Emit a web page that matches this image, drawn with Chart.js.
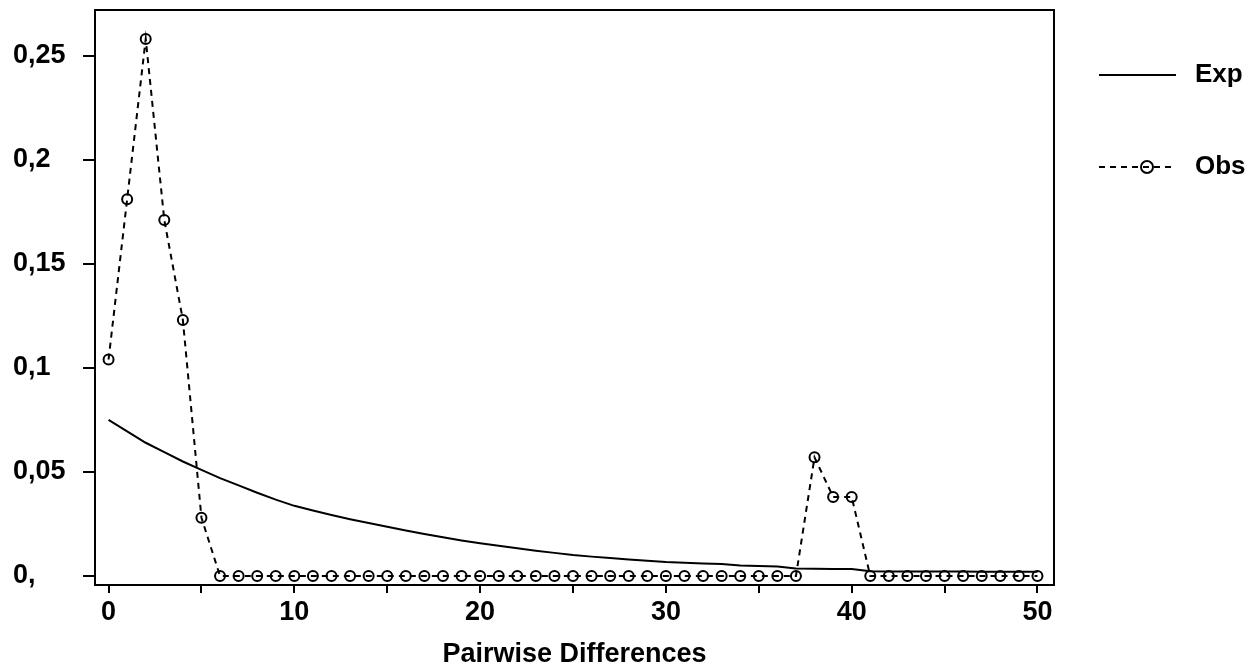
<!DOCTYPE html>
<html><head><meta charset="utf-8">
<script src="https://cdn.jsdelivr.net/npm/chart.js@4/dist/chart.umd.min.js"></script>
<style>html,body{margin:0;padding:0;background:#fff;overflow:hidden}canvas{display:block}</style>
</head><body>
<canvas id="c" width="1257" height="672"></canvas>
<script>
const pairwiseDifferences = [0,1,2,3,4,5,6,7,8,9,10,11,12,13,14,15,16,17,18,19,20,21,22,23,24,25,26,27,28,29,30,31,32,33,34,35,36,37,38,39,40,41,42,43,44,45,46,47,48,49,50];
const obsValues = [0.104,0.181,0.258,0.171,0.123,0.028,0,0,0,0,0,0,0,0,0,0,0,0,0,0,0,0,0,0,0,0,0,0,0,0,0,0,0,0,0,0,0,0,0.057,0.038,0.038,0,0,0,0,0,0,0,0,0,0];
const expValues = [0.075,0.0695,0.064,0.0595,0.055,0.051,0.047,0.0435,0.040,0.0367,0.0337,0.0315,0.0293,0.0273,0.0255,0.0237,0.0219,0.0202,0.0186,0.0171,0.0157,0.0145,0.0133,0.0121,0.0111,0.0101,0.0093,0.0086,0.0079,0.0073,0.0067,0.0063,0.0060,0.0058,0.0050,0.0048,0.0046,0.0036,0.0035,0.0034,0.0033,0.0023,0.0022,0.0022,0.0021,0.0021,0.0021,0.0020,0.0020,0.0020,0.0020];
const xTickValues = [0,5,10,15,20,25,30,35,40,45,50];
const xTickLabels = ['0','','10','','20','','30','','40','','50'];
const yTickValues = [0,0.05,0.1,0.15,0.2,0.25];
const yTickLabels = ['0,','0,05','0,1','0,15','0,2','0,25'];
const xAxisTitle = 'Pairwise Differences';
const seriesLabels = ['Exp','Obs'];

const FONT = '"Liberation Sans", Arial, sans-serif';

const framePlugin = {
  id: 'frame',
  beforeDatasetsDraw(chart) {
    const {ctx, chartArea: a} = chart;
    ctx.save();
    ctx.strokeStyle = '#000';
    ctx.lineWidth = 2;
    ctx.strokeRect(a.left, a.top, a.right - a.left, a.bottom - a.top);
    ctx.restore();
  }
};

const legendPlugin = {
  id: 'customLegend',
  afterDraw(chart) {
    const ctx = chart.ctx;
    const ds = chart.data.datasets;
    ctx.save();
    ctx.strokeStyle = '#000';
    ctx.fillStyle = '#000';
    ctx.lineWidth = 2;
    ctx.beginPath(); ctx.moveTo(1099, 75); ctx.lineTo(1176, 75); ctx.stroke();
    ctx.setLineDash([6, 5]);
    ctx.beginPath(); ctx.moveTo(1099, 167); ctx.lineTo(1176, 167); ctx.stroke();
    ctx.setLineDash([]);
    ctx.beginPath(); ctx.arc(1147, 167, 6, 0, Math.PI * 2); ctx.stroke();
    ctx.font = 'bold 26px ' + FONT;
    ctx.textBaseline = 'middle';
    ctx.textAlign = 'left';
    ctx.fillText(ds[0].label, 1195, 75);
    ctx.fillText(ds[1].label, 1195, 167);
    ctx.restore();
  }
};

new Chart(document.getElementById('c'), {
  type: 'line',
  data: {
    datasets: [
      {
        label: seriesLabels[0],
        data: pairwiseDifferences.map((x, i) => ({x: x, y: expValues[i]})),
        borderColor: '#000',
        borderWidth: 2,
        pointRadius: 0,
        tension: 0,
        fill: false
      },
      {
        label: seriesLabels[1],
        data: pairwiseDifferences.map((x, i) => ({x: x, y: obsValues[i]})),
        borderColor: '#000',
        borderWidth: 2,
        borderDash: [6, 5],
        pointRadius: 5,
        pointBorderWidth: 2,
        pointBorderColor: '#000',
        pointBackgroundColor: 'rgba(0,0,0,0)',
        tension: 0,
        fill: false
      }
    ]
  },
  options: {
    responsive: false,
    animation: false,
    events: [],
    layout: {padding: {left: 13, right: 203, top: 10, bottom: 0}},
    plugins: {legend: {display: false}, tooltip: {enabled: false}},
    scales: {
      x: {
        type: 'linear',
        min: -0.73,
        max: 50.89,
        afterBuildTicks: s => { s.ticks = xTickValues.map(v => ({value: v})); },
        afterFit: s => { s.height = 87; s.paddingLeft = 0; s.paddingRight = 0; },
        ticks: {
          callback: (v, i) => xTickLabels[i],
          color: '#000',
          font: {family: FONT, size: 27, weight: 'bold'},
          padding: 3,
          maxRotation: 0,
          autoSkip: false
        },
        grid: {drawOnChartArea: false, drawTicks: true, tickLength: 8, color: '#000', lineWidth: 2},
        border: {display: false},
        title: {
          display: true,
          text: xAxisTitle,
          color: '#000',
          font: {family: FONT, size: 27, weight: 'bold'},
          padding: {top: 0, bottom: 1}
        }
      },
      y: {
        type: 'linear',
        min: -0.00433,
        max: 0.2719,
        afterBuildTicks: s => { s.ticks = yTickValues.map(v => ({value: v})); },
        afterFit: s => { s.width = 82; s.paddingTop = 0; s.paddingBottom = 0; },
        ticks: {
          callback: (v, i) => yTickLabels[i],
          color: '#000',
          font: {family: FONT, size: 27, weight: 'bold'},
          crossAlign: 'far',
          autoSkip: false
        },
        grid: {drawOnChartArea: false, drawTicks: true, tickLength: 12, color: '#000', lineWidth: 2},
        border: {display: false}
      }
    }
  },
  plugins: [framePlugin, legendPlugin]
});
</script>
</body></html>
